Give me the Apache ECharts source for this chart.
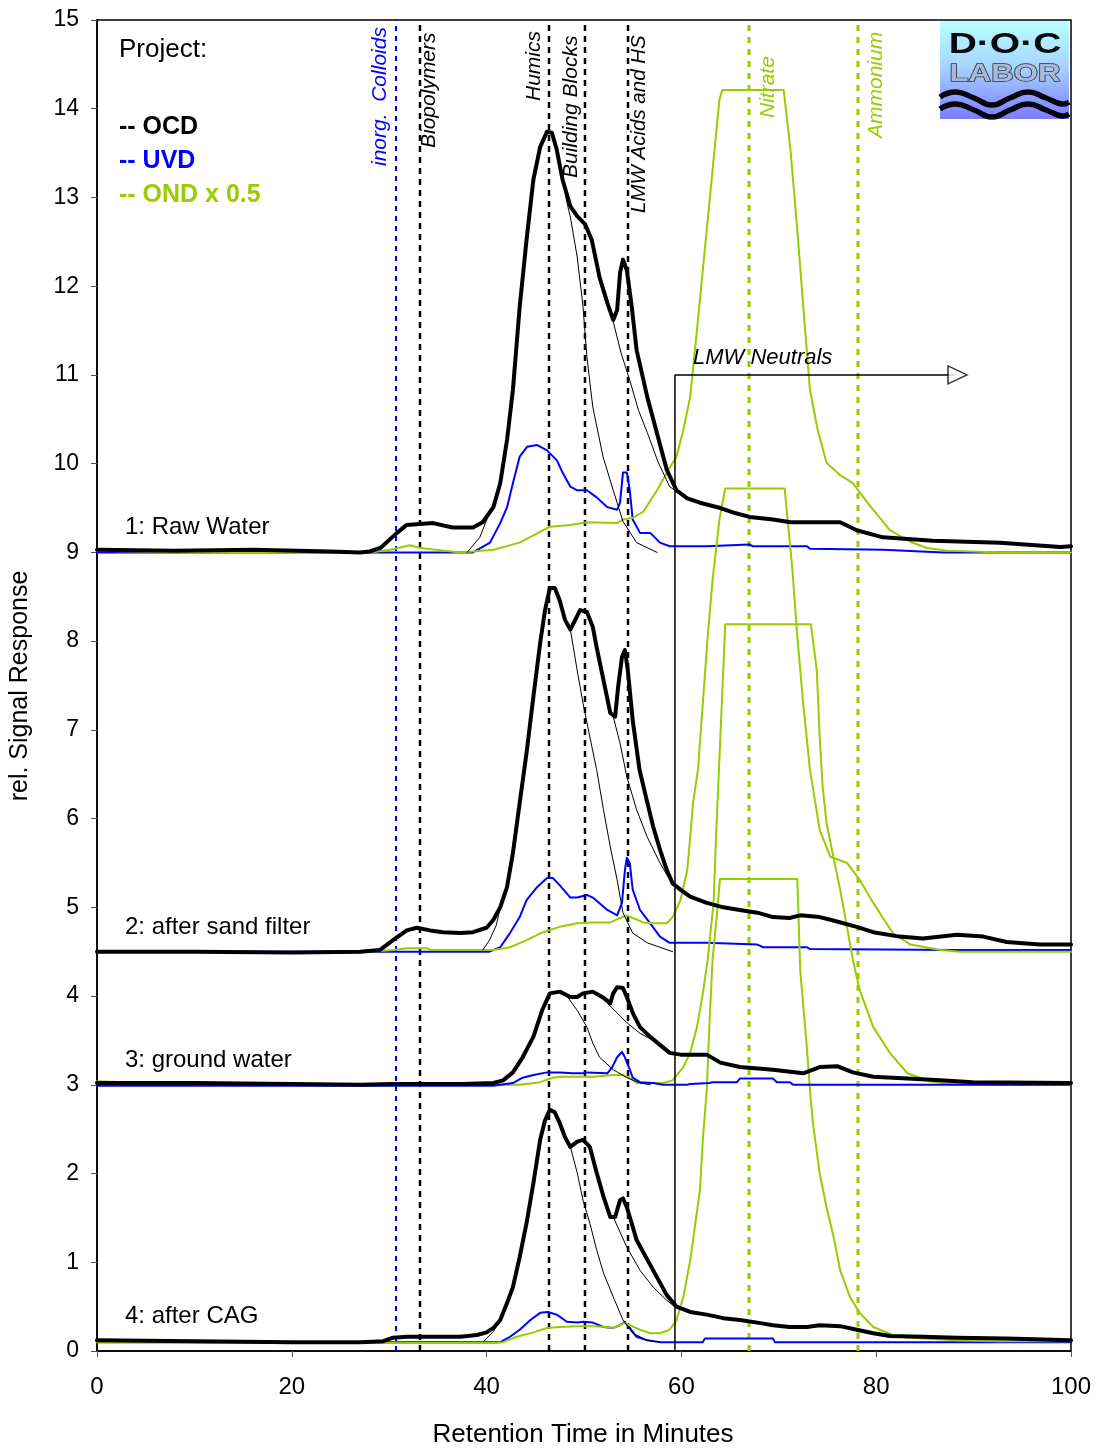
<!DOCTYPE html>
<html>
<head>
<meta charset="utf-8">
<script src="https://cdn.jsdelivr.net/npm/echarts@6/dist/echarts.min.js"></script>
<style>html,body{margin:0;padding:0;background:#fff;}#chart{width:1101px;height:1452px;}</style>
</head>
<body>
<div id="chart"></div>
<script>
// ---------- DATA (retention time in minutes, relative signal as plotted) ----------
// Panel 1: Raw Water (offset baseline 9)
const ocd1 = [[0,9.03],[8,9.02],[16,9.03],[24,9.01],[27,9.0],[28.0,9.01],[29.1,9.05],[30.8,9.22],[31.8,9.31],[34.5,9.33],[36.5,9.28],[38.6,9.28],[39.6,9.34],[40.7,9.51],[41.4,9.78],[42.1,10.27],[42.7,10.83],[43.4,11.77],[44.1,12.52],[44.8,13.2],[45.5,13.57],[46.2,13.74],[46.7,13.73],[47.2,13.54],[47.8,13.2],[48.6,12.9],[49.3,12.79],[50.1,12.7],[50.8,12.52],[51.6,12.1],[52.4,11.81],[53.0,11.62],[53.4,11.73],[53.7,12.15],[54.0,12.3],[54.4,12.18],[54.9,11.77],[55.4,11.28],[56.5,10.75],[57.5,10.34],[58.5,9.93],[59.5,9.7],[60.6,9.61],[61.9,9.56],[64.0,9.5],[65.3,9.45],[67.0,9.4],[69.4,9.37],[71.2,9.34],[76.3,9.34],[78.0,9.25],[80.7,9.17],[85.8,9.13],[92.7,9.11],[98.9,9.06],[100,9.07]];
const fitA1 = [[38.0,9.0],[39.3,9.17],[40.2,9.42],[40.7,9.51],[41.4,9.78],[42.1,10.27],[42.7,10.83],[43.4,11.77],[44.1,12.52],[44.8,13.2],[45.5,13.57],[46.2,13.74],[46.7,13.73],[47.2,13.54],[47.8,13.2],[48.25,12.94],[48.6,12.78],[49.3,12.33],[49.9,11.77],[50.3,11.2],[50.9,10.64],[51.95,10.08],[53.0,9.7],[54.0,9.35],[55.4,9.11],[57.5,9.0]];
const fitB1 = [[53.0,11.6],[53.8,11.25],[54.7,10.94],[55.6,10.6],[56.5,10.35],[57.6,10.02],[58.8,9.74],[59.6,9.68]];
const uvd1 = [[0,9.0],[38.6,9.0],[40.35,9.11],[41.4,9.33],[42.1,9.51],[42.7,9.78],[43.4,10.08],[44.15,10.19],[45.2,10.21],[46.2,10.15],[47.2,10.04],[47.8,9.9],[48.6,9.74],[49.3,9.7],[50.3,9.7],[51.3,9.62],[52.4,9.51],[53.4,9.48],[53.7,9.56],[54.0,9.9],[54.4,9.9],[54.7,9.7],[55.0,9.37],[55.75,9.22],[56.8,9.22],[57.8,9.11],[58.8,9.07],[62.6,9.07],[62.7,9.09],[67.0,9.09],[67.3,9.07],[72.9,9.07],[73.2,9.04],[80.7,9.03],[86.9,9.0],[100,9.0]];
const ond1 = [[0,9.02],[10,9.0],[28.0,9.0],[30.1,9.03],[32.1,9.08],[33.2,9.05],[37.3,9.0],[40.7,9.03],[43.4,9.11],[46.5,9.29],[48.6,9.31],[50.3,9.34],[53.4,9.33],[54.0,9.37],[55.0,9.39],[56.1,9.46],[57.5,9.7],[58.5,9.9],[59.5,10.08],[60.2,10.38],[60.9,10.75],[61.6,11.51],[61.9,11.84],[62.4,12.41],[62.9,12.97],[63.5,13.65],[63.9,14.1],[64.2,14.21],[70.5,14.21],[71.2,13.54],[71.9,12.63],[72.7,11.51],[73.2,10.83],[74.0,10.38],[74.9,10.01],[76.3,9.87],[77.6,9.78],[79.1,9.56],[81.4,9.25],[83.5,9.12],[85.2,9.05],[87.3,9.02],[92.7,9.0],[100,9.0]];

// Panel 2: after sand filter (offset baseline 4.5)
const ocd2 = [[0,4.5],[10,4.5],[20,4.49],[27.0,4.5],[29.06,4.52],[30.4,4.63],[31.8,4.74],[32.85,4.77],[34.2,4.74],[35.5,4.72],[37.3,4.71],[38.6,4.72],[40.0,4.77],[40.7,4.86],[41.4,5.0],[42.1,5.23],[42.7,5.61],[43.4,6.18],[44.1,6.74],[44.8,7.37],[45.5,7.98],[46.0,8.35],[46.5,8.6],[47.0,8.6],[47.5,8.46],[48.05,8.24],[48.6,8.13],[49.1,8.24],[49.6,8.35],[50.3,8.33],[50.9,8.16],[51.3,7.93],[52.0,7.56],[52.7,7.19],[53.2,7.15],[53.5,7.48],[53.9,7.82],[54.2,7.9],[54.5,7.67],[55.0,7.11],[55.7,6.55],[56.5,6.18],[57.1,5.91],[57.8,5.65],[58.5,5.42],[59.1,5.27],[59.9,5.2],[60.9,5.12],[62.6,5.05],[64.3,5.0],[66.0,4.97],[67.8,4.94],[69.4,4.89],[71.1,4.88],[72.2,4.91],[74.2,4.89],[75.3,4.86],[78.0,4.78],[79.7,4.72],[82.4,4.67],[84.8,4.65],[88.3,4.69],[91.0,4.67],[93.4,4.61],[96.8,4.58],[100,4.58]];
const fitA2 = [[39.6,4.52],[40.3,4.63],[41.0,4.8],[41.4,5.0],[42.1,5.23],[42.7,5.61],[43.4,6.18],[44.1,6.74],[44.8,7.37],[45.5,7.98],[46.0,8.35],[46.5,8.6],[47.0,8.6],[47.5,8.46],[48.05,8.24],[48.6,8.13],[49.3,7.67],[49.9,7.3],[50.6,6.92],[51.3,6.55],[52.0,6.1],[52.7,5.68],[53.4,5.31],[54.0,4.94],[55.0,4.71],[56.5,4.6],[57.8,4.55],[59.1,4.5]];
const fitB2 = [[53.0,7.15],[53.7,6.85],[54.4,6.47],[55.4,6.1],[56.5,5.79],[57.8,5.5],[58.8,5.31],[59.9,5.2]];
const uvd2 = [[0,4.5],[40.3,4.5],[41.4,4.55],[42.4,4.71],[43.4,4.89],[44.1,5.08],[45.2,5.23],[46.2,5.33],[46.8,5.33],[47.5,5.25],[48.6,5.11],[49.3,5.11],[50.3,5.14],[50.9,5.11],[52.4,4.97],[53.4,4.91],[53.9,5.05],[54.2,5.42],[54.4,5.56],[54.7,5.5],[55.0,5.2],[55.75,4.97],[56.8,4.82],[57.8,4.67],[58.8,4.6],[62.6,4.6],[67.8,4.58],[68.4,4.55],[72.9,4.55],[73.2,4.53],[88,4.52],[100,4.52]];
const ond2 = [[0,4.5],[27.0,4.49],[30.4,4.52],[31.8,4.54],[33.9,4.54],[34.2,4.52],[40.7,4.52],[42.4,4.55],[44.1,4.63],[45.8,4.72],[47.5,4.78],[49.3,4.82],[50.9,4.83],[52.7,4.83],[53.7,4.88],[54.4,4.91],[55.0,4.88],[56.1,4.83],[57.1,4.82],[58.5,4.82],[59.1,4.89],[59.9,5.08],[60.6,5.42],[60.9,5.79],[61.2,6.18],[61.7,6.55],[62.2,7.3],[62.7,8.05],[63.2,8.69],[63.9,9.37],[64.5,9.72],[70.6,9.72],[71.4,8.8],[71.9,8.05],[72.5,7.3],[73.2,6.55],[74.2,5.87],[75.3,5.57],[77.0,5.5],[78.3,5.31],[79.7,5.05],[81.7,4.71],[83.5,4.58],[86.6,4.52],[88.6,4.5],[100,4.5]];

// Panel 3: ground water (offset baseline 3)
const ocd3 = [[0,3.02],[10,3.02],[20,3.01],[27.0,3.0],[30.4,3.01],[37.3,3.01],[40.7,3.02],[41.7,3.05],[42.7,3.14],[43.7,3.31],[44.8,3.54],[45.7,3.84],[46.5,4.03],[47.5,4.05],[48.6,3.99],[49.3,3.99],[49.9,4.03],[50.9,4.05],[52.0,3.98],[52.7,3.92],[53.0,4.03],[53.4,4.1],[54.0,4.09],[54.4,3.99],[55.0,3.81],[55.75,3.65],[56.8,3.54],[57.8,3.45],[58.8,3.36],[59.9,3.34],[62.6,3.34],[64.0,3.25],[66.0,3.2],[69.4,3.17],[72.5,3.13],[74.2,3.2],[76.0,3.21],[77.6,3.14],[79.7,3.09],[83.2,3.07],[86.6,3.05],[89.9,3.03],[100,3.02]];
const fitA3 = [[40.7,3.02],[41.7,3.05],[42.7,3.14],[43.7,3.31],[44.8,3.54],[45.7,3.84],[46.5,4.03],[47.5,4.05],[48.3,3.99],[49.3,3.84],[50.3,3.65],[50.9,3.47],[51.6,3.31],[53.0,3.17],[54.4,3.08],[55.75,3.02],[56.8,3.0]];
const fitB3 = [[52.4,3.92],[53.5,3.8],[54.4,3.7],[55.75,3.58],[57.1,3.5]];
const uvd3 = [[0,2.99],[40.7,2.99],[42.7,3.02],[43.7,3.08],[44.8,3.11],[46.2,3.14],[47.5,3.14],[48.9,3.13],[49.9,3.13],[50.3,3.14],[52.4,3.13],[52.9,3.2],[53.4,3.31],[53.9,3.37],[54.2,3.31],[54.7,3.17],[55.0,3.08],[55.75,3.03],[57.1,3.02],[58.1,3.0],[60.6,3.0],[60.9,3.01],[62.9,3.02],[63.2,3.03],[65.7,3.03],[66.0,3.07],[69.4,3.07],[69.8,3.03],[71.1,3.03],[71.5,3.0],[100,3.0]];
const ond3 = [[0,3.04],[3,3.03],[6,3.0],[43.4,3.0],[45.5,3.03],[46.8,3.08],[47.5,3.09],[50.9,3.09],[53.0,3.11],[54.0,3.11],[54.7,3.08],[55.4,3.02],[58.1,3.02],[59.1,3.05],[60.2,3.2],[60.9,3.36],[61.6,3.65],[62.2,4.03],[62.7,4.41],[63.3,5.05],[63.6,5.9],[64.0,6.92],[64.5,8.19],[73.3,8.19],[73.9,7.67],[74.2,6.92],[74.5,6.36],[74.9,5.95],[75.6,5.57],[76.3,5.2],[77.0,4.78],[77.6,4.41],[78.3,4.07],[79.7,3.65],[81.4,3.36],[83.2,3.13],[85.5,3.04],[87.6,3.01],[92.7,3.0],[100,3.0]];

// Panel 4: after CAG (offset baseline 0)
const ocd4 = [[0,0.12],[10,0.11],[20,0.1],[27.0,0.1],[29.4,0.11],[30.4,0.15],[31.8,0.16],[37.3,0.16],[39.0,0.18],[40.0,0.21],[40.7,0.26],[41.4,0.35],[42.1,0.54],[42.7,0.72],[43.4,1.06],[44.1,1.44],[44.8,1.89],[45.5,2.38],[46.0,2.6],[46.5,2.72],[47.0,2.69],[47.5,2.57],[48.05,2.41],[48.6,2.3],[49.3,2.36],[49.9,2.38],[50.6,2.3],[51.3,2.01],[52.0,1.74],[52.7,1.51],[53.2,1.51],[53.7,1.7],[54.0,1.72],[54.4,1.62],[54.9,1.44],[55.4,1.25],[56.5,1.03],[57.5,0.83],[58.5,0.63],[59.5,0.5],[60.9,0.44],[62.6,0.41],[64.3,0.37],[66.0,0.35],[67.8,0.32],[69.4,0.29],[71.1,0.27],[72.9,0.27],[74.2,0.29],[76.3,0.28],[78.0,0.24],[79.7,0.2],[81.4,0.17],[84.8,0.16],[88.3,0.15],[93.4,0.14],[100,0.12]];
const fitA4 = [[39.7,0.11],[40.7,0.22],[41.4,0.35],[42.1,0.54],[42.7,0.72],[43.4,1.06],[44.1,1.44],[44.8,1.89],[45.5,2.38],[46.0,2.6],[46.5,2.72],[47.0,2.69],[47.5,2.57],[48.05,2.41],[48.6,2.3],[49.3,2.01],[49.9,1.7],[50.6,1.44],[51.3,1.14],[52.0,0.88],[53.0,0.61],[54.0,0.35],[55.0,0.2],[56.5,0.12],[57.8,0.1]];
const fitB4 = [[53.0,1.51],[54.4,1.17],[55.75,0.91],[57.1,0.72],[58.5,0.57],[59.3,0.5]];
const uvd4 = [[0,0.1],[41.4,0.1],[42.4,0.16],[43.4,0.24],[44.5,0.35],[45.5,0.43],[46.3,0.44],[47.2,0.41],[48.25,0.33],[49.3,0.32],[49.9,0.33],[50.9,0.32],[52.0,0.27],[53.0,0.26],[53.7,0.29],[54.2,0.33],[54.7,0.26],[55.4,0.16],[56.5,0.12],[57.8,0.1],[62.2,0.1],[62.4,0.14],[69.4,0.14],[69.6,0.1],[100,0.1]];
const ond4 = [[0,0.1],[27,0.09],[40.7,0.09],[41.7,0.1],[43.1,0.16],[44.8,0.21],[46.2,0.26],[47.5,0.27],[49.3,0.28],[50.9,0.28],[52.4,0.27],[53.0,0.26],[53.7,0.29],[54.2,0.32],[54.7,0.29],[55.75,0.24],[56.8,0.2],[57.8,0.2],[58.8,0.24],[59.5,0.35],[60.2,0.61],[60.9,1.02],[61.9,1.81],[62.2,2.38],[62.6,2.94],[62.9,3.73],[63.2,4.41],[63.6,4.86],[63.96,5.32],[71.9,5.32],[72.2,4.29],[72.9,3.39],[73.2,2.94],[73.5,2.57],[74.2,2.0],[74.9,1.62],[75.6,1.3],[76.3,0.91],[77.3,0.61],[78.3,0.43],[79.7,0.27],[81.7,0.18],[83.2,0.15],[84.8,0.14],[88.3,0.12],[92.7,0.11],[100,0.11]];

// Fraction boundaries (minutes)
const colloidLines = [30.7];
const fractionLines = [33.16, 46.41, 50.1, 54.52];
const nitrogenLines = [66.94, 78.13];
const lmwNeutralsBracket = [[59.34,0],[59.34,11],[88.0,11]];
const lmwArrowHead = [[88.35,11]];

// Axis ticks
const xTicks = {min:0, max:100, interval:20};
const yTicks = {min:0, max:15, interval:1};

// ---------- CHART ----------
const COL_OCD = '#000000', COL_UVD = '#0000ff', COL_OND = '#99cc00';
const FONT = '"Liberation Sans", Arial, sans-serif';

function curve(name, data, color, width, z) {
  return {name, type:'line', data, symbol:'none', showSymbol:false, silent:true, z,
    lineStyle:{color, width, join:'round', cap:'round'}, animation:false};
}
function vline(x, color, width, dash) {
  return {type:'line', data:[[x,0],[x,15]], symbol:'none', silent:true, z:1,
    lineStyle:{color, width, type:dash}, animation:false};
}

const series = [];
colloidLines.forEach(x => series.push(vline(x, COL_UVD, 2, [5,5])));
fractionLines.forEach(x => series.push(vline(x, '#000', 2.5, [6,5])));
nitrogenLines.forEach(x => series.push(vline(x, COL_OND, 3, [6,6])));
// z order: UVD under OND except panel 3 where the blue baseline shows on top
series.push(curve('UVD1', uvd1, COL_UVD, 2, 2));
series.push(curve('UVD2', uvd2, COL_UVD, 2, 2));
series.push(curve('UVD4', uvd4, COL_UVD, 2, 2));
series.push(curve('OND1', ond1, COL_OND, 2, 3));
series.push(curve('OND2', ond2, COL_OND, 2, 3));
series.push(curve('OND3', ond3, COL_OND, 2, 3));
series.push(curve('OND4', ond4, COL_OND, 2, 3));
series.push(curve('UVD3', uvd3, COL_UVD, 2, 3.5));
[fitA1, fitB1, fitA2, fitB2, fitA3, fitB3, fitA4, fitB4].forEach((d,i) => series.push(curve('fit'+i, d, '#000', 1, 4)));
[ocd1, ocd2, ocd3, ocd4].forEach((d,i) => series.push(curve('OCD'+(i+1), d, COL_OCD, 4, 5)));
series.push({type:'line', data:lmwNeutralsBracket, symbol:'none', silent:true, z:6,
  lineStyle:{color:'#000', width:1.5}, animation:false});
series.push({type:'scatter', data:lmwArrowHead, symbol:'triangle', symbolSize:[18,19], symbolRotate:-90,
  silent:true, z:7, itemStyle:{color:'#fff', borderColor:'#000', borderWidth:1.5}, animation:false});

function txt(x, y, text, font, fill) {
  return {type:'text', x, y, silent:true, z:100,
    style:{text, font, fill, textAlign:'left', textVerticalAlign:'middle'}};
}
function vtxt(cx, bottom, text, size, fill) {
  return {type:'text', x:cx, y:bottom, rotation:Math.PI/2, silent:true, z:100,
    style:{text, font:'italic '+size+'px '+FONT, fill, textAlign:'left', textVerticalAlign:'middle'}};
}

const graphic = [
  txt(119, 50, 'Project:', '26px '+FONT, '#000'),
  txt(119, 127, '-- OCD', 'bold 25px '+FONT, '#000'),
  txt(119, 161, '-- UVD', 'bold 25px '+FONT, COL_UVD),
  txt(119, 195, '-- OND x 0.5', 'bold 25px '+FONT, COL_OND),
  txt(125, 527, '1: Raw Water', '24px '+FONT, '#000'),
  txt(125, 927, '2: after sand filter', '24px '+FONT, '#000'),
  txt(125, 1060, '3: ground water', '24px '+FONT, '#000'),
  txt(125, 1316, '4: after CAG', '24px '+FONT, '#000'),
  txt(693, 358, 'LMW Neutrals', 'italic 22px '+FONT, '#000'),
  vtxt(380, 166, 'inorg.  Colloids', 21, COL_UVD),
  vtxt(429, 148, 'Biopolymers', 21, '#000'),
  vtxt(534, 101, 'Humics', 21, '#000'),
  vtxt(571, 178, 'Building Blocks', 21, '#000'),
  vtxt(639, 213, 'LMW Acids and HS', 20.5, '#000'),
  vtxt(768, 118, 'Nitrate', 21, COL_OND),
  vtxt(876, 138, 'Ammonium', 21, COL_OND),
  {type:'text', x:20, y:686, rotation:Math.PI/2, silent:true,
    style:{text:'rel. Signal Response', font:'25px '+FONT, fill:'#000', textAlign:'center', textVerticalAlign:'middle'}},
  {type:'text', x:583, y:1435, silent:true,
    style:{text:'Retention Time in Minutes', font:'26px '+FONT, fill:'#000', textAlign:'center', textVerticalAlign:'middle'}},
  // DOC-LABOR logo
  {type:'group', silent:true, z:200, children:[
    {type:'rect', shape:{x:940, y:21, width:129, height:98},
      style:{fill:new echarts.graphic.LinearGradient(0,0,0,1,[
        {offset:0,color:'#b6ffff'},{offset:0.45,color:'#a8d6ff'},{offset:1,color:'#7c7cff'}])}},
    {type:'text', x:1005, y:45, scaleX:1.3, style:{text:'D·O·C', font:'bold 30px '+FONT, fill:'#050a0a', textAlign:'center', textVerticalAlign:'middle'}},
    {type:'text', x:1005, y:74, scaleX:1.3, style:{text:'LABOR', font:'bold 24px '+FONT, fill:'#a9b9dc', stroke:'#263238', lineWidth:1.3, textAlign:'center', textVerticalAlign:'middle'}},
    {type:'polyline', shape:{points:[[940,97],[956,92],[974,98],[992,105],[1010,98],[1028,92],[1046,98],[1062,104],[1069,102]], smooth:0.5},
      style:{stroke:'#050510', lineWidth:5.5, fill:null}},
    {type:'polyline', shape:{points:[[940,109],[956,104],[974,110],[992,117],[1010,110],[1028,104],[1046,110],[1062,116],[1069,114]], smooth:0.5},
      style:{stroke:'#050510', lineWidth:5.5, fill:null}}
  ]}
];

const chart = echarts.init(document.getElementById('chart'), null, {renderer:'canvas'});
chart.setOption({
  animation:false,
  backgroundColor:'#fff',
  grid:{left:97, right:30, top:20, bottom:101, show:true, borderColor:'#000', borderWidth:1.5, backgroundColor:'transparent'},
  xAxis:{type:'value', min:xTicks.min, max:xTicks.max, interval:xTicks.interval,
    axisLine:{show:true, onZero:false, lineStyle:{color:'#000', width:1.5}},
    axisTick:{show:true, length:6, lineStyle:{color:'#555'}},
    axisLabel:{fontSize:24, color:'#000', margin:24, fontFamily:FONT},
    splitLine:{show:false}},
  yAxis:{type:'value', min:yTicks.min, max:yTicks.max, interval:yTicks.interval,
    axisLine:{show:true, onZero:false, lineStyle:{color:'#000', width:1.5}},
    axisTick:{show:true, length:6, lineStyle:{color:'#555'}},
    axisLabel:{fontSize:23, color:'#000', margin:18, fontFamily:FONT},
    splitLine:{show:false}},
  series,
  graphic
});
</script>
</body>
</html>
